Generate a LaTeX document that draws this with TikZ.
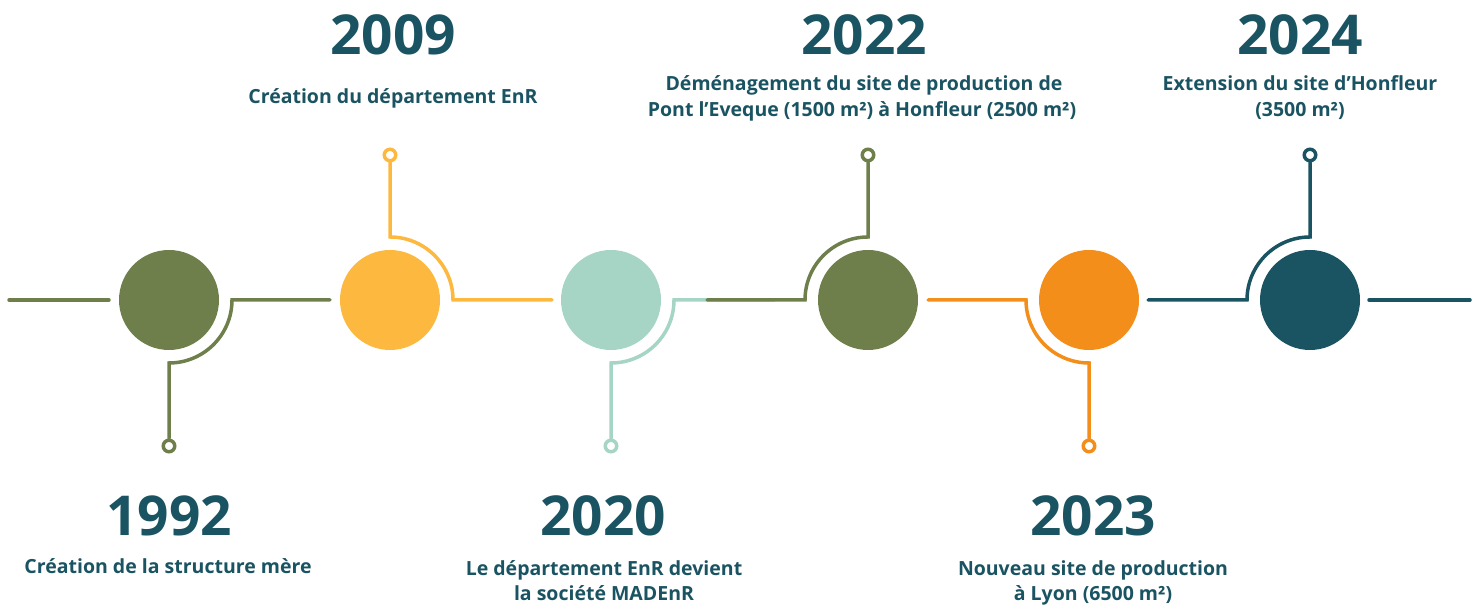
\documentclass[tikz,border=0pt]{standalone}
\usepackage{fontspec}
\setmainfont{Open Sans}
\usetikzlibrary{calc}
\definecolor{cvert}{HTML}{6E7F4C}
\definecolor{cjaune}{HTML}{FDB840}
\definecolor{cmenthe}{HTML}{A6D4C5}
\definecolor{corange}{HTML}{F28E19}
\definecolor{cbleu}{HTML}{1A5361}
\begin{document}
\begin{tikzpicture}[x=1pt,y=1pt,
    etape/.style={circle,fill=#1,minimum size=100pt,inner sep=0pt},
    pastille/.style={circle,draw=#1,fill=white,line width=3.5pt,minimum size=11.5pt,inner sep=0pt},
    lien/.style={draw=#1,line width=3.5pt,line cap=round},
    annee/.style={anchor=base,inner sep=0pt,text=cbleu,font=\fontsize{55}{55}\selectfont\bfseries},
    texte/.style={anchor=base,inner sep=0pt,text=cbleu,font=\fontsize{19.5}{24}\selectfont\bfseries}]
    \useasboundingbox (0,0) rectangle (1481,607);
    % big dots on the time line
    \node[etape=cvert] (c1992) at (169,307) {};
    \node[etape=cjaune] (c2009) at (390,307) {};
    \node[etape=cmenthe] (c2020) at (611,307) {};
    \node[etape=cvert] (c2022) at (868,307) {};
    \node[etape=corange] (c2023) at (1089,307) {};
    \node[etape=cbleu] (c2024) at (1310,307) {};
    % small end dots
    \node[pastille=cvert] (d1992) at (169,161) {};
    \node[pastille=cjaune] (d2009) at (390,452) {};
    \node[pastille=cmenthe] (d2020) at (611,161) {};
    \node[pastille=cvert] (d2022) at (868,452) {};
    \node[pastille=corange] (d2023) at (1089,161) {};
    \node[pastille=cbleu] (d2024) at (1310,452) {};
    % loose ends of the line segments
    \coordinate (g0) at (9,307);
    \coordinate (g1) at (109,307);
    \coordinate (e1992) at (330,307);
    \coordinate (e2009) at (552,307);
    \coordinate (e2020) at (774,307);
    \coordinate (e2022) at (707,307);
    \coordinate (e2023) at (928,307);
    \coordinate (e2024) at (1148,307);
    \coordinate (h0) at (1369,307);
    \coordinate (h1) at (1470,307);
    % stems, quarter arcs and segments
    \draw[lien=cvert] (g0) -- (g1);
    \draw[lien=cvert] (d1992.north) -- ($(c1992)+(0,-63)$) arc[start angle=270,end angle=360,radius=63] -- (e1992);
    \draw[lien=cjaune] (d2009.south) -- ($(c2009)+(0,63)$) arc[start angle=90,end angle=0,radius=63] -- (e2009);
    \draw[lien=cmenthe] (d2020.north) -- ($(c2020)+(0,-63)$) arc[start angle=270,end angle=360,radius=63] -- (e2020);
    \draw[lien=cvert] (d2022.south) -- ($(c2022)+(0,63)$) arc[start angle=90,end angle=180,radius=63] -- (e2022);
    \draw[lien=corange] (d2023.north) -- ($(c2023)+(0,-63)$) arc[start angle=270,end angle=180,radius=63] -- (e2023);
    \draw[lien=cbleu] (d2024.south) -- ($(c2024)+(0,63)$) arc[start angle=90,end angle=180,radius=63] -- (e2024);
    \draw[lien=cbleu] (h0) -- (h1);
    % years and captions above
    \node[annee] (a2009) at (393,552) {2009};
    \node[texte] (t2009) at (393,503) {Création du département EnR};
    \node[annee] (a2022) at (864,552) {2022};
    \node[texte] (t2022a) at (864,516) {Déménagement du site de production de};
    \node[texte] (t2022b) at (862,490) {Pont l’Eveque (1500 m²) à Honfleur (2500 m²)};
    \node[annee] (a2024) at (1300,552) {2024};
    \node[texte] (t2024a) at (1300,516) {Extension du site d’Honfleur};
    \node[texte] (t2024b) at (1300,490) {(3500 m²)};
    % years and captions below
    \node[annee] (a1992) at (169,71) {1992};
    \node[texte] (t1992) at (168,33) {Création de la structure mère};
    \node[annee] (a2020) at (603,71) {2020};
    \node[texte] (t2020a) at (604,31) {Le département EnR devient};
    \node[texte] (t2020b) at (604,6) {la société MADEnR};
    \node[annee] (a2023) at (1093,71) {2023};
    \node[texte] (t2023a) at (1093,31) {Nouveau site de production};
    \node[texte] (t2023b) at (1093,6) {à Lyon (6500 m²)};
\end{tikzpicture}
\end{document}
